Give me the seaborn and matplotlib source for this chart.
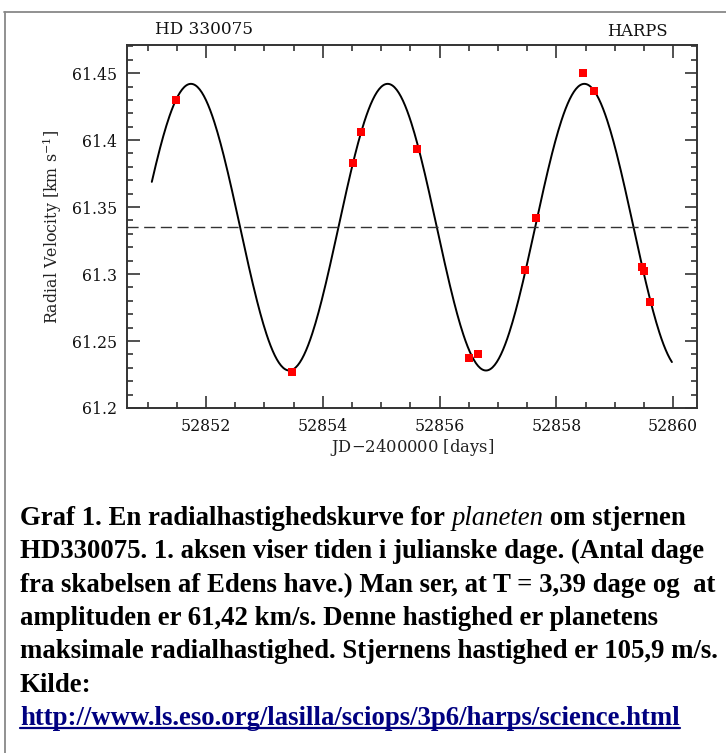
import numpy as np
import pandas as pd
import matplotlib
matplotlib.use("Agg")
import matplotlib.pyplot as plt
import seaborn as sns
from matplotlib.lines import Line2D
from matplotlib.ticker import MultipleLocator

# HARPS radial velocities for HD 330075
jd = [52851.49, 52853.47, 52854.52, 52854.65, 52855.61, 52856.50, 52856.65,
      52857.47, 52857.66, 52858.46, 52858.64, 52859.47, 52859.51, 52859.61]
rv = [61.430, 61.227, 61.383, 61.406, 61.393, 61.237, 61.240,
      61.303, 61.342, 61.450, 61.437, 61.305, 61.302, 61.279]

# sinusoidal orbit fit, parameters
period = 3.37
k_amp = 0.107
v_mean = 61.335
t_peak = 52851.74
fit_start, fit_end = 52851.07, 52859.98

caption = [
    "HD330075. 1. aksen viser tiden i julianske dage. (Antal dage",
    "fra skabelsen af Edens have.) Man ser, at T = 3,39 dage og  at",
    "amplituden er 61,42 km/s. Denne hastighed er planetens",
    "maksimale radialhastighed. Stjernens hastighed er 105,9 m/s.",
    "Kilde:",
]
link = "http://www.ls.eso.org/lasilla/sciops/3p6/harps/science.html"

df = pd.DataFrame({"jd": jd, "rv": rv})
t = np.linspace(fit_start, fit_end, 500)
fit = pd.DataFrame({"jd": t, "rv": v_mean + k_amp * np.cos(2 * np.pi * (t - t_peak) / period)})

sns.set_style("ticks")
plt.rcParams["font.family"] = ["DejaVu Serif"]
plt.rcParams["mathtext.fontset"] = "dejavuserif"

W, H = 726, 753
fig = plt.figure(figsize=(W / 100, H / 100), dpi=100)
ax = fig.add_axes([127 / W, 1 - 408 / H, 570 / W, 363 / H])

sns.lineplot(data=fit, x="jd", y="rv", color="black", lw=1.4, ax=ax, sort=False)
ax.axhline(v_mean, color="#333333", lw=1.0, ls=(0, (8, 4)))
sns.scatterplot(data=df, x="jd", y="rv", color="red", marker="s", s=30,
                edgecolor="red", linewidth=0, ax=ax, zorder=5)

ax.set_xlim(52850.645, 52860.41)
ax.set_ylim(61.2, 61.471)
ax.xaxis.set_major_locator(MultipleLocator(2))
ax.xaxis.set_minor_locator(MultipleLocator(0.5))
ax.yaxis.set_major_locator(MultipleLocator(0.05))
ax.yaxis.set_minor_locator(MultipleLocator(0.01))
ax.yaxis.set_major_formatter(matplotlib.ticker.FuncFormatter(lambda v, p: f"{v:.3f}".rstrip("0").rstrip(".")))
ax.tick_params(which="both", direction="in", top=True, right=True, color="#333333", width=1.2)
ax.tick_params(which="major", length=9, labelsize=11.3, pad=7, labelcolor="#111111")
ax.tick_params(which="minor", length=4.5)
for s in ax.spines.values():
    s.set_color("#333333")
    s.set_linewidth(1.4)
ax.set_xlabel("JD$-$2400000 [days]", fontsize=11.8, labelpad=2, color="#222222")
ax.set_ylabel("Radial Velocity [km s$^{-1}$]", fontsize=11.4, labelpad=6, color="#222222")

fig.text(155 / W, 1 - 30 / H, "HD 330075", fontsize=12.2, va="center", ha="left", color="#111111")
fig.text(668 / W, 1 - 31 / H, "HARPS", fontsize=11.8, va="center", ha="right", color="#111111")

# frame of the page
fig.add_artist(Line2D([4 / W, 1], [1 - 12 / H, 1 - 12 / H], color="#888888", lw=1.3))
fig.add_artist(Line2D([5 / W, 5 / W], [1 - 12 / H, 0], color="#888888", lw=1.3))

cap_font = dict(family="Liberation Serif", fontsize=19.3, color="black", va="baseline")
x0 = 20 / W
base0 = 525
step = 33.3

fig.canvas.draw()
r = fig.canvas.get_renderer()

# first line has an italic word in it
parts = [("Graf 1. En radialhastighedskurve for ", "bold", "normal"),
         ("planeten", "normal", "italic"),
         (" om stjernen", "bold", "normal")]
xp = 20
for txt, wt, st in parts:
    tt = fig.text(xp / W, 1 - base0 / H, txt, fontweight=wt, fontstyle=st, **cap_font)
    bb = tt.get_window_extent(renderer=r)
    xp += bb.width

for i, line in enumerate(caption, start=1):
    fig.text(x0, 1 - (base0 + i * step) / H, line, fontweight="bold", **cap_font)

yl = base0 + 6 * step
lt = fig.text(x0, 1 - yl / H, link, fontweight="bold",
              **{**cap_font, "color": "#000080"})
bb = lt.get_window_extent(renderer=r)
fig.add_artist(Line2D([bb.x0 / W, bb.x1 / W], [1 - (yl + 3) / H] * 2, color="#000080", lw=1.6))

fig.savefig("out.png", dpi=100)
